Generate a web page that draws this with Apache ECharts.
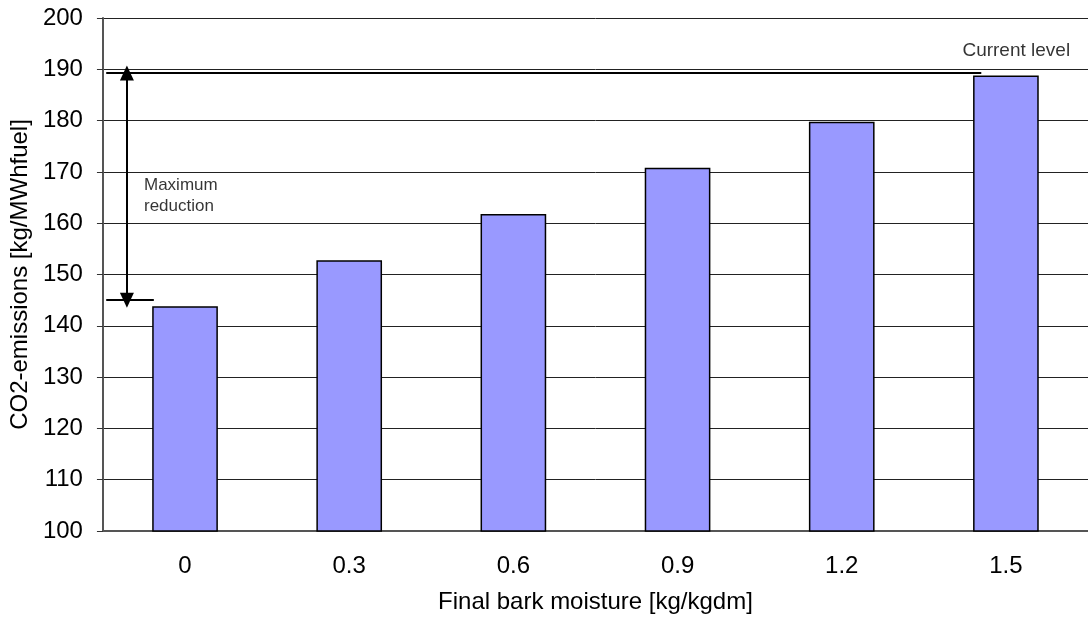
<!DOCTYPE html>
<html>
<head>
<meta charset="utf-8">
<script src="https://cdn.jsdelivr.net/npm/echarts@6/dist/echarts.min.js"></script>
<style>html,body{margin:0;padding:0;background:#fff;}#c{width:1088px;height:619px;}</style>
</head>
<body>
<div id="c"></div>
<script>
const categories = ['0', '0.3', '0.6', '0.9', '1.2', '1.5'];
const emissions = [143.8, 152.8, 161.8, 170.8, 179.8, 188.8];
const yTicks = [100, 110, 120, 130, 140, 150, 160, 170, 180, 190, 200];
const currentLevel = 189.3;
const minLevel = 145;
const annotationTexts = ['Maximum\nreduction', 'Current level'];

const FONT = '"Liberation Sans", Arial, sans-serif';
const chart = echarts.init(document.getElementById('c'), null, {renderer: 'canvas'});
chart.setOption({
  backgroundColor: '#fff',
  animation: false,
  grid: {left: 102, top: 18, width: 988, bottom: 87, containLabel: false},
  xAxis: [{
    type: 'category',
    data: categories,
    name: 'Final bark moisture [kg/kgdm]',
    nameLocation: 'middle',
    nameGap: 59,
    nameTextStyle: {fontFamily: FONT, fontSize: 24, color: '#000'},
    axisLine: {lineStyle: {color: '#555', width: 2}},
    axisTick: {length: 5, lineStyle: {color: '#333', width: 1}},
    axisLabel: {fontFamily: FONT, fontSize: 24, color: '#000', margin: 23},
    splitLine: {show: false}
  }, {
    type: 'value', min: 0, max: 6, show: false
  }],
  yAxis: {
    type: 'value',
    min: yTicks[0], max: yTicks[yTicks.length - 1], interval: 10,
    name: 'CO2-emissions [kg/MWhfuel]',
    nameLocation: 'middle',
    nameGap: 69,
    nameTextStyle: {fontFamily: FONT, fontSize: 24, color: '#000'},
    axisLine: {show: true, lineStyle: {color: '#555', width: 2}},
    axisTick: {show: true, length: 6, lineStyle: {color: '#333', width: 1}},
    axisLabel: {fontFamily: FONT, fontSize: 24, color: '#000', margin: 20},
    splitLine: {lineStyle: {color: '#222', width: 1}}
  },
  series: [{
    type: 'bar',
    data: emissions,
    barWidth: '40%',
    itemStyle: {color: '#9999ff', borderColor: '#000', borderWidth: 1.5}
  }, {
    type: 'line',
    xAxisIndex: 1,
    data: [[0.02, currentLevel], [5.35, currentLevel]],
    symbol: 'none',
    lineStyle: {color: '#000', width: 2},
    silent: true,
    markLine: {
      silent: true,
      animation: false,
      label: {show: false},
      data: [
        [{coord: [0.146, currentLevel], symbol: 'triangle', symbolSize: [14, 15]},
         {coord: [0.146, minLevel], symbol: 'triangle', symbolSize: [14, 15]}],
        [{coord: [0.02, minLevel], symbol: 'none'}, {coord: [0.31, minLevel], symbol: 'none'}]
      ],
      lineStyle: {color: '#000', width: 2, type: 'solid'}
    }
  }, {
    type: 'scatter',
    xAxisIndex: 1,
    symbolSize: 0,
    silent: true,
    data: [
      {value: [0.25, 165.4], label: {fontSize: 17}},
      {value: [5.235, 193.6], label: {fontSize: 19}}
    ],
    label: {
      show: true,
      position: 'inside',
      fontFamily: FONT,
      color: '#000',
      lineHeight: 21,
      align: 'left',
      formatter: p => annotationTexts[p.dataIndex]
    }
  }]
});
</script>
</body>
</html>
